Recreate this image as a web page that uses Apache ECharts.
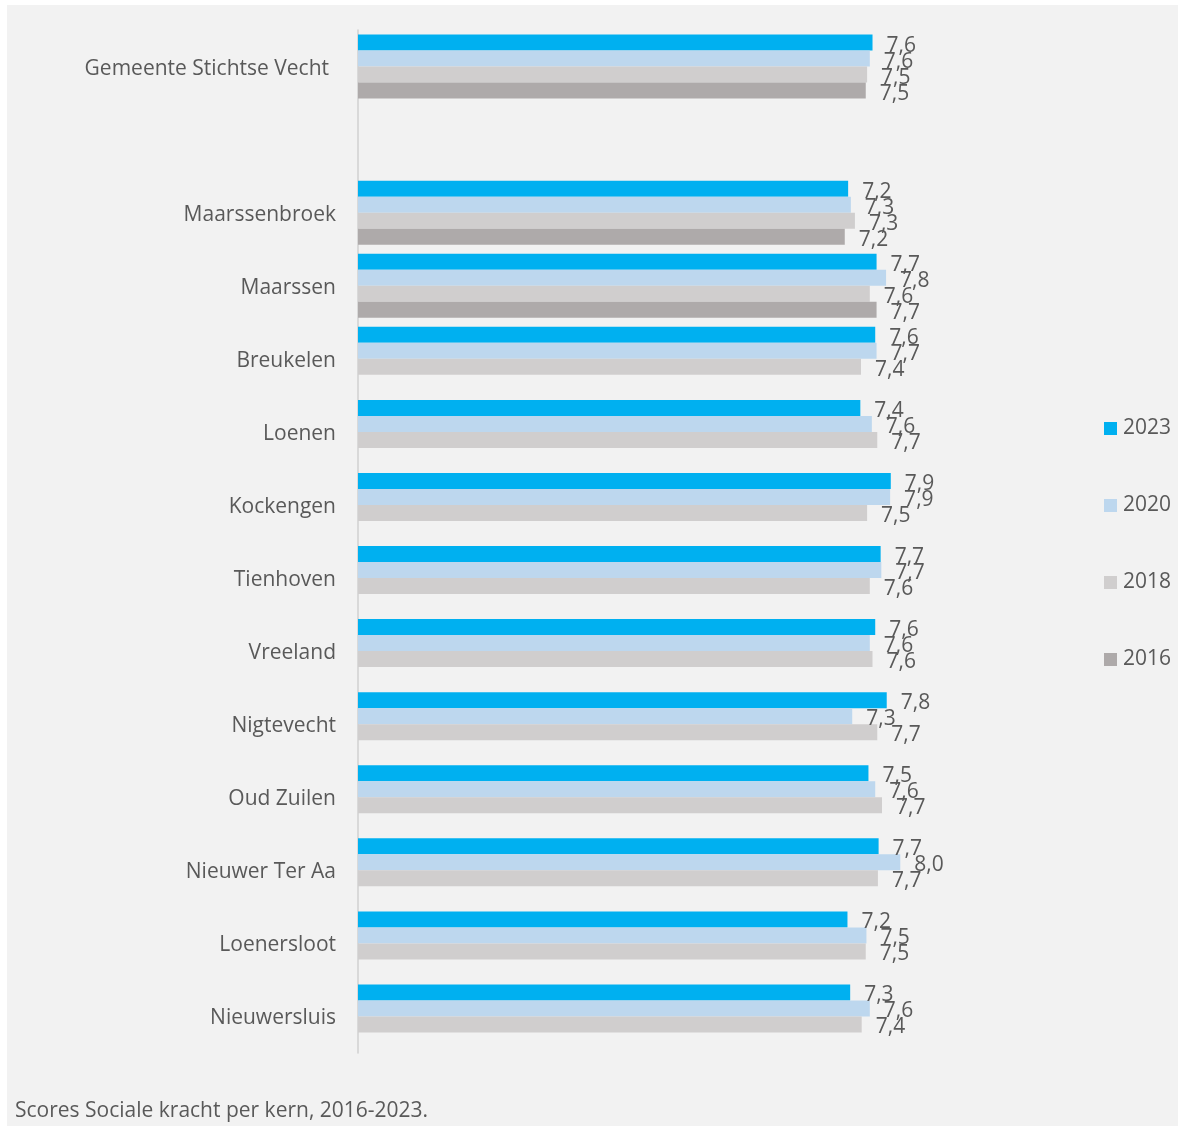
<!DOCTYPE html>
<html>
<head>
<meta charset="utf-8">
<script src="https://cdn.jsdelivr.net/npm/echarts@6/dist/echarts.min.js"></script>
<style>
html,body{margin:0;padding:0;background:#ffffff;}
#chart{position:absolute;left:7px;top:5px;width:1171px;height:1121px;}
</style>
</head>
<body>
<div id="chart"></div>
<script>
const categories = ['Gemeente Stichtse Vecht', '', 'Maarssenbroek', 'Maarssen', 'Breukelen', 'Loenen', 'Kockengen', 'Tienhoven', 'Vreeland', 'Nigtevecht', 'Oud Zuilen', 'Nieuwer Ter Aa', 'Loenersloot', 'Nieuwersluis'];
const seriesNames = ['2023', '2020', '2018', '2016'];
const values2023 = [7.60, null, 7.24, 7.66, 7.64, 7.42, 7.87, 7.72, 7.64, 7.81, 7.54, 7.69, 7.23, 7.27];
const values2020 = [7.56, null, 7.28, 7.80, 7.66, 7.59, 7.86, 7.73, 7.56, 7.30, 7.64, 8.01, 7.51, 7.56];
const values2018 = [7.52, null, 7.34, 7.56, 7.43, 7.67, 7.52, 7.56, 7.60, 7.67, 7.74, 7.68, 7.50, 7.44];
const values2016 = [7.50, null, 7.19, 7.66, null, null, null, null, null, null, null, null, null, null];
const caption = 'Scores Sociale kracht per kern, 2016-2023.';

const colors = ['#00b0f0', '#bdd7ee', '#d0cece', '#aeaaaa'];
const allValues = [values2023, values2020, values2018, values2016];
const FONT = '"Open Sans", "Noto Sans", sans-serif';
const TXT = '#595959';
const FS = 21;

const chart = echarts.init(document.getElementById('chart'));
chart.setOption({
  backgroundColor: '#f2f2f2',
  animation: false,
  textStyle: { fontFamily: FONT },
  grid: { left: 351, top: 25, width: 677, height: 1023, containLabel: false },
  xAxis: {
    type: 'value', min: 0, max: 10, show: false,
    splitLine: { show: false }
  },
  yAxis: {
    type: 'category', inverse: true, data: categories,
    axisLine: { show: true, lineStyle: { color: '#d0d0d0', width: 1.5 } },
    axisTick: { show: false },
    axisLabel: {
      margin: 22, color: TXT, fontSize: FS, fontFamily: FONT,
      padding: [4, 0, 0, 0],
      formatter: function (v, i) { return i === 0 ? '{g|' + v + '}' : v; },
      rich: { g: { padding: [0, 7, 0, 0], color: TXT, fontSize: FS, fontFamily: FONT } }
    }
  },
  legend: {
    orient: 'vertical', left: 1092, top: 408,
    data: seriesNames,
    itemWidth: 13, itemHeight: 13, itemGap: 56,
    icon: 'rect',
    textStyle: { color: TXT, fontSize: FS, fontFamily: FONT, lineHeight: 20, padding: [0, 0, 0, 1] }
  },
  series: seriesNames.map((name, k) => ({
    name: name, type: 'bar',
    data: allValues[k],
    barWidth: 16, barGap: '0%',
    itemStyle: { color: colors[k] },
    label: {
      show: true, position: 'right', distance: 14, offset: [0, 3],
      color: TXT, fontSize: FS, fontFamily: FONT,
      formatter: p => (p.value == null ? '' : p.value.toFixed(1).replace('.', ','))
    }
  })),
  graphic: [{
    type: 'text', left: 8, top: 1096,
    style: { text: caption, fill: TXT, fontSize: FS, fontFamily: FONT }
  }]
});
</script>
</body>
</html>
